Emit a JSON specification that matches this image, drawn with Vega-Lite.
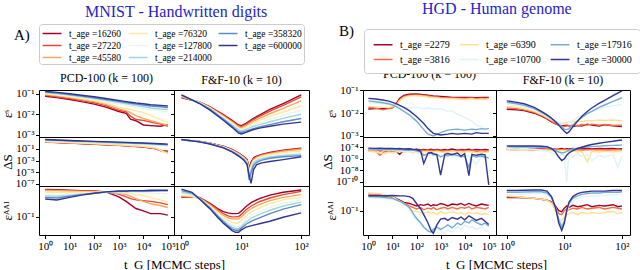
{
"$schema":"https://vega.github.io/schema/vega-lite/v6.json",
"padding":{"left":0,"top":0,"right":1,"bottom":1},
"config":{
 "font":"Liberation Serif",
 "view":{"stroke":"#000","strokeWidth":1},
 "axis":{"labelFont":"Liberation Serif","labelFontSize":11,"labelColor":"#000","titleFont":"Liberation Serif","titleFontWeight":"normal","titleColor":"#000","titleFontSize":13,"grid":false,"domain":false,"tickColor":"#000","tickSize":3.5,"labelPadding":1.5,"labelFlush":false,"labelOverlap":false,"titlePadding":1},
 "title":{"font":"Liberation Serif","fontWeight":"normal","fontSize":12,"color":"#000","offset":3},
 "legend":{"symbolType":"M-0.9,0L2,0","symbolStrokeWidth":1.5,"symbolSize":169,"labelFont":"Liberation Serif","labelFontSize":10,"labelColor":"#000","strokeColor":"#cccccc","cornerRadius":3,"fillColor":"#ffffff","labelOffset":13}
},
"datasets":{
"A11":[
{"t":16260,"x":1,"y":0.075},{"t":16260,"x":3,"y":0.064},{"t":16260,"x":10,"y":0.052},{"t":16260,"x":30,"y":0.041},{"t":16260,"x":100,"y":0.031},{"t":16260,"x":300,"y":0.022},{"t":16260,"x":1000,"y":0.0135},{"t":16260,"x":2000,"y":0.011},{"t":16260,"x":3000,"y":0.0058},{"t":16260,"x":5000,"y":0.0048},{"t":16260,"x":10000,"y":0.003},{"t":16260,"x":20000,"y":0.0028},{"t":16260,"x":50000,"y":0.0026},{"t":16260,"x":100000,"y":0.0032},
{"t":27220,"x":1,"y":0.083},{"t":27220,"x":3,"y":0.071},{"t":27220,"x":10,"y":0.058},{"t":27220,"x":30,"y":0.046},{"t":27220,"x":100,"y":0.036},{"t":27220,"x":300,"y":0.026},{"t":27220,"x":1000,"y":0.0155},{"t":27220,"x":2000,"y":0.013},{"t":27220,"x":3000,"y":0.008},{"t":27220,"x":5000,"y":0.0055},{"t":27220,"x":10000,"y":0.005},{"t":27220,"x":20000,"y":0.0042},{"t":27220,"x":50000,"y":0.0033},{"t":27220,"x":100000,"y":0.0026},
{"t":45580,"x":1,"y":0.09},{"t":45580,"x":3,"y":0.078},{"t":45580,"x":10,"y":0.064},{"t":45580,"x":30,"y":0.052},{"t":45580,"x":100,"y":0.041},{"t":45580,"x":300,"y":0.03},{"t":45580,"x":1000,"y":0.018},{"t":45580,"x":2000,"y":0.015},{"t":45580,"x":3000,"y":0.012},{"t":45580,"x":5000,"y":0.0085},{"t":45580,"x":10000,"y":0.0062},{"t":45580,"x":20000,"y":0.0048},{"t":45580,"x":50000,"y":0.0036},{"t":45580,"x":100000,"y":0.0029},
{"t":76320,"x":1,"y":0.097},{"t":76320,"x":3,"y":0.085},{"t":76320,"x":10,"y":0.071},{"t":76320,"x":30,"y":0.058},{"t":76320,"x":100,"y":0.046},{"t":76320,"x":300,"y":0.035},{"t":76320,"x":1000,"y":0.022},{"t":76320,"x":2000,"y":0.019},{"t":76320,"x":3000,"y":0.017},{"t":76320,"x":5000,"y":0.015},{"t":76320,"x":10000,"y":0.012},{"t":76320,"x":20000,"y":0.0085},{"t":76320,"x":50000,"y":0.0055},{"t":76320,"x":100000,"y":0.004},
{"t":127800,"x":1,"y":0.105},{"t":127800,"x":3,"y":0.093},{"t":127800,"x":10,"y":0.078},{"t":127800,"x":30,"y":0.064},{"t":127800,"x":100,"y":0.052},{"t":127800,"x":300,"y":0.041},{"t":127800,"x":1000,"y":0.031},{"t":127800,"x":2000,"y":0.027},{"t":127800,"x":3000,"y":0.024},{"t":127800,"x":5000,"y":0.021},{"t":127800,"x":10000,"y":0.018},{"t":127800,"x":20000,"y":0.016},{"t":127800,"x":50000,"y":0.0145},{"t":127800,"x":100000,"y":0.013},
{"t":214000,"x":1,"y":0.112},{"t":214000,"x":3,"y":0.1},{"t":214000,"x":10,"y":0.085},{"t":214000,"x":30,"y":0.07},{"t":214000,"x":100,"y":0.058},{"t":214000,"x":300,"y":0.047},{"t":214000,"x":1000,"y":0.037},{"t":214000,"x":2000,"y":0.032},{"t":214000,"x":3000,"y":0.029},{"t":214000,"x":5000,"y":0.026},{"t":214000,"x":10000,"y":0.023},{"t":214000,"x":20000,"y":0.02},{"t":214000,"x":50000,"y":0.018},{"t":214000,"x":100000,"y":0.017},
{"t":358320,"x":1,"y":0.12},{"t":358320,"x":3,"y":0.107},{"t":358320,"x":10,"y":0.091},{"t":358320,"x":30,"y":0.076},{"t":358320,"x":100,"y":0.063},{"t":358320,"x":300,"y":0.052},{"t":358320,"x":1000,"y":0.042},{"t":358320,"x":2000,"y":0.037},{"t":358320,"x":3000,"y":0.034},{"t":358320,"x":5000,"y":0.031},{"t":358320,"x":10000,"y":0.028},{"t":358320,"x":20000,"y":0.025},{"t":358320,"x":50000,"y":0.023},{"t":358320,"x":100000,"y":0.021},
{"t":600000,"x":1,"y":0.13},{"t":600000,"x":3,"y":0.115},{"t":600000,"x":10,"y":0.098},{"t":600000,"x":30,"y":0.083},{"t":600000,"x":100,"y":0.07},{"t":600000,"x":300,"y":0.058},{"t":600000,"x":1000,"y":0.046},{"t":600000,"x":2000,"y":0.041},{"t":600000,"x":3000,"y":0.038},{"t":600000,"x":5000,"y":0.035},{"t":600000,"x":10000,"y":0.032},{"t":600000,"x":20000,"y":0.029},{"t":600000,"x":50000,"y":0.027},{"t":600000,"x":100000,"y":0.025}
],
"A12":[
{"t":16260,"x":1,"y":0.062},{"t":16260,"x":2,"y":0.04},{"t":16260,"x":3,"y":0.023},{"t":16260,"x":5,"y":0.0095},{"t":16260,"x":7,"y":0.005},{"t":16260,"x":9,"y":0.003},{"t":16260,"x":10,"y":0.0028},{"t":16260,"x":12,"y":0.0036},{"t":16260,"x":15,"y":0.0057},{"t":16260,"x":20,"y":0.009},{"t":16260,"x":30,"y":0.017},{"t":16260,"x":50,"y":0.033},{"t":16260,"x":100,"y":0.086},
{"t":27220,"x":1,"y":0.066},{"t":27220,"x":2,"y":0.039},{"t":27220,"x":3,"y":0.022},{"t":27220,"x":5,"y":0.009},{"t":27220,"x":7,"y":0.0047},{"t":27220,"x":9,"y":0.0027},{"t":27220,"x":10,"y":0.0025},{"t":27220,"x":12,"y":0.0032},{"t":27220,"x":15,"y":0.005},{"t":27220,"x":20,"y":0.0078},{"t":27220,"x":30,"y":0.014},{"t":27220,"x":50,"y":0.027},{"t":27220,"x":100,"y":0.069},
{"t":45580,"x":1,"y":0.07},{"t":45580,"x":2,"y":0.038},{"t":45580,"x":3,"y":0.021},{"t":45580,"x":5,"y":0.0082},{"t":45580,"x":7,"y":0.0042},{"t":45580,"x":9,"y":0.0024},{"t":45580,"x":10,"y":0.0022},{"t":45580,"x":12,"y":0.0028},{"t":45580,"x":15,"y":0.0042},{"t":45580,"x":20,"y":0.0062},{"t":45580,"x":30,"y":0.0105},{"t":45580,"x":50,"y":0.019},{"t":45580,"x":100,"y":0.044},
{"t":76320,"x":1,"y":0.075},{"t":76320,"x":2,"y":0.037},{"t":76320,"x":3,"y":0.02},{"t":76320,"x":5,"y":0.0075},{"t":76320,"x":7,"y":0.0038},{"t":76320,"x":9,"y":0.0021},{"t":76320,"x":10,"y":0.0019},{"t":76320,"x":12,"y":0.0024},{"t":76320,"x":15,"y":0.0035},{"t":76320,"x":20,"y":0.005},{"t":76320,"x":30,"y":0.0078},{"t":76320,"x":50,"y":0.0128},{"t":76320,"x":100,"y":0.025},
{"t":127800,"x":1,"y":0.08},{"t":127800,"x":2,"y":0.036},{"t":127800,"x":3,"y":0.019},{"t":127800,"x":5,"y":0.0068},{"t":127800,"x":7,"y":0.0034},{"t":127800,"x":9,"y":0.0019},{"t":127800,"x":10,"y":0.0017},{"t":127800,"x":12,"y":0.0021},{"t":127800,"x":15,"y":0.0029},{"t":127800,"x":20,"y":0.0039},{"t":127800,"x":30,"y":0.0058},{"t":127800,"x":50,"y":0.0089},{"t":127800,"x":100,"y":0.0155},
{"t":214000,"x":1,"y":0.082},{"t":214000,"x":2,"y":0.035},{"t":214000,"x":3,"y":0.018},{"t":214000,"x":5,"y":0.0062},{"t":214000,"x":7,"y":0.003},{"t":214000,"x":9,"y":0.0017},{"t":214000,"x":10,"y":0.0015},{"t":214000,"x":12,"y":0.0018},{"t":214000,"x":15,"y":0.0024},{"t":214000,"x":20,"y":0.0031},{"t":214000,"x":30,"y":0.0043},{"t":214000,"x":50,"y":0.0063},{"t":214000,"x":100,"y":0.01},
{"t":358320,"x":1,"y":0.084},{"t":358320,"x":2,"y":0.034},{"t":358320,"x":3,"y":0.017},{"t":358320,"x":5,"y":0.0057},{"t":358320,"x":7,"y":0.0026},{"t":358320,"x":9,"y":0.0014},{"t":358320,"x":10,"y":0.0013},{"t":358320,"x":12,"y":0.0015},{"t":358320,"x":15,"y":0.0019},{"t":358320,"x":20,"y":0.0024},{"t":358320,"x":30,"y":0.0031},{"t":358320,"x":50,"y":0.0043},{"t":358320,"x":100,"y":0.0062},
{"t":600000,"x":1,"y":0.086},{"t":600000,"x":2,"y":0.033},{"t":600000,"x":3,"y":0.0157},{"t":600000,"x":5,"y":0.0051},{"t":600000,"x":7,"y":0.0023},{"t":600000,"x":9,"y":0.0012},{"t":600000,"x":10,"y":0.0011},{"t":600000,"x":12,"y":0.0013},{"t":600000,"x":15,"y":0.0017},{"t":600000,"x":20,"y":0.0021},{"t":600000,"x":30,"y":0.0026},{"t":600000,"x":50,"y":0.0033},{"t":600000,"x":100,"y":0.0041}
],
"A21":[
{"t":16260,"x":1,"y":1.5},{"t":16260,"x":10,"y":1.0},{"t":16260,"x":100,"y":0.65},{"t":16260,"x":1000,"y":0.4},{"t":16260,"x":10000,"y":0.2},{"t":16260,"x":30000,"y":0.12},{"t":16260,"x":50000,"y":0.05},{"t":16260,"x":100000,"y":0.04},
{"t":27220,"x":1,"y":1.6},{"t":27220,"x":10,"y":1.05},{"t":27220,"x":100,"y":0.68},{"t":27220,"x":1000,"y":0.42},{"t":27220,"x":10000,"y":0.22},{"t":27220,"x":30000,"y":0.12},{"t":27220,"x":50000,"y":0.06},{"t":27220,"x":100000,"y":0.03},
{"t":45580,"x":1,"y":1.7},{"t":45580,"x":10,"y":1.1},{"t":45580,"x":100,"y":0.72},{"t":45580,"x":1000,"y":0.45},{"t":45580,"x":10000,"y":0.25},{"t":45580,"x":30000,"y":0.14},{"t":45580,"x":50000,"y":0.05},{"t":45580,"x":100000,"y":0.02},
{"t":76320,"x":1,"y":1.9},{"t":76320,"x":10,"y":1.2},{"t":76320,"x":100,"y":0.8},{"t":76320,"x":1000,"y":0.5},{"t":76320,"x":10000,"y":0.28},{"t":76320,"x":30000,"y":0.16},{"t":76320,"x":50000,"y":0.06},{"t":76320,"x":100000,"y":0.014},
{"t":127800,"x":1,"y":2.8},{"t":127800,"x":10,"y":1.9},{"t":127800,"x":100,"y":1.25},{"t":127800,"x":1000,"y":0.85},{"t":127800,"x":10000,"y":0.55},{"t":127800,"x":30000,"y":0.42},{"t":127800,"x":50000,"y":0.36},{"t":127800,"x":100000,"y":0.3},
{"t":214000,"x":1,"y":3.2},{"t":214000,"x":10,"y":2.2},{"t":214000,"x":100,"y":1.5},{"t":214000,"x":1000,"y":1.05},{"t":214000,"x":10000,"y":0.72},{"t":214000,"x":30000,"y":0.58},{"t":214000,"x":50000,"y":0.52},{"t":214000,"x":100000,"y":0.45},
{"t":358320,"x":1,"y":3.6},{"t":358320,"x":10,"y":2.5},{"t":358320,"x":100,"y":1.75},{"t":358320,"x":1000,"y":1.25},{"t":358320,"x":10000,"y":0.9},{"t":358320,"x":30000,"y":0.72},{"t":358320,"x":50000,"y":0.65},{"t":358320,"x":100000,"y":0.55},
{"t":600000,"x":1,"y":4.0},{"t":600000,"x":10,"y":2.8},{"t":600000,"x":100,"y":2.0},{"t":600000,"x":1000,"y":1.45},{"t":600000,"x":10000,"y":1.05},{"t":600000,"x":30000,"y":0.85},{"t":600000,"x":50000,"y":0.78},{"t":600000,"x":100000,"y":0.65}
],
"A22":[
{"t":16260,"x":1,"y":3.6},{"t":16260,"x":2,"y":1.9},{"t":16260,"x":3,"y":1.0},{"t":16260,"x":5,"y":0.3},{"t":16260,"x":7,"y":0.08},{"t":16260,"x":9,"y":0.02},{"t":16260,"x":11,"y":0.005},{"t":16260,"x":12.5,"y":0.0015},{"t":16260,"x":13.5,"y":0.00005},{"t":16260,"x":14.5,"y":0.0005},{"t":16260,"x":16,"y":0.003},{"t":16260,"x":18,"y":0.006},{"t":16260,"x":22,"y":0.012},{"t":16260,"x":30,"y":0.025},{"t":16260,"x":50,"y":0.06},{"t":16260,"x":100,"y":0.13},
{"t":27220,"x":1,"y":3.7},{"t":27220,"x":2,"y":1.85},{"t":27220,"x":3,"y":0.95},{"t":27220,"x":5,"y":0.28},{"t":27220,"x":7,"y":0.07},{"t":27220,"x":9,"y":0.017},{"t":27220,"x":11,"y":0.004},{"t":27220,"x":12.5,"y":0.001},{"t":27220,"x":13.5,"y":0.00003},{"t":27220,"x":14.5,"y":0.0003},{"t":27220,"x":16,"y":0.002},{"t":27220,"x":18,"y":0.0045},{"t":27220,"x":22,"y":0.01},{"t":27220,"x":30,"y":0.021},{"t":27220,"x":50,"y":0.05},{"t":27220,"x":100,"y":0.11},
{"t":45580,"x":1,"y":3.8},{"t":45580,"x":2,"y":1.8},{"t":45580,"x":3,"y":0.9},{"t":45580,"x":5,"y":0.25},{"t":45580,"x":7,"y":0.06},{"t":45580,"x":9,"y":0.014},{"t":45580,"x":11,"y":0.0033},{"t":45580,"x":12.5,"y":0.0008},{"t":45580,"x":13.5,"y":0.00002},{"t":45580,"x":14.5,"y":0.0002},{"t":45580,"x":16,"y":0.0015},{"t":45580,"x":18,"y":0.0035},{"t":45580,"x":22,"y":0.008},{"t":45580,"x":30,"y":0.016},{"t":45580,"x":50,"y":0.04},{"t":45580,"x":100,"y":0.09},
{"t":76320,"x":1,"y":3.85},{"t":76320,"x":2,"y":1.75},{"t":76320,"x":3,"y":0.85},{"t":76320,"x":5,"y":0.23},{"t":76320,"x":7,"y":0.052},{"t":76320,"x":9,"y":0.012},{"t":76320,"x":11,"y":0.0028},{"t":76320,"x":12.5,"y":0.0006},{"t":76320,"x":13.5,"y":0.000012},{"t":76320,"x":14.5,"y":0.00012},{"t":76320,"x":16,"y":0.001},{"t":76320,"x":18,"y":0.0025},{"t":76320,"x":22,"y":0.0055},{"t":76320,"x":30,"y":0.011},{"t":76320,"x":50,"y":0.025},{"t":76320,"x":100,"y":0.05},
{"t":127800,"x":1,"y":3.9},{"t":127800,"x":2,"y":1.7},{"t":127800,"x":3,"y":0.8},{"t":127800,"x":5,"y":0.21},{"t":127800,"x":7,"y":0.045},{"t":127800,"x":9,"y":0.01},{"t":127800,"x":11,"y":0.0023},{"t":127800,"x":12.5,"y":0.00045},{"t":127800,"x":13.5,"y":0.000006},{"t":127800,"x":14.5,"y":0.00006},{"t":127800,"x":16,"y":0.0007},{"t":127800,"x":18,"y":0.0016},{"t":127800,"x":22,"y":0.0035},{"t":127800,"x":30,"y":0.007},{"t":127800,"x":50,"y":0.014},{"t":127800,"x":100,"y":0.025},
{"t":214000,"x":1,"y":3.95},{"t":214000,"x":2,"y":1.65},{"t":214000,"x":3,"y":0.76},{"t":214000,"x":5,"y":0.19},{"t":214000,"x":7,"y":0.04},{"t":214000,"x":9,"y":0.0085},{"t":214000,"x":11,"y":0.0018},{"t":214000,"x":12.5,"y":0.00035},{"t":214000,"x":13.5,"y":0.0000015},{"t":214000,"x":14.5,"y":0.000025},{"t":214000,"x":16,"y":0.0004},{"t":214000,"x":18,"y":0.001},{"t":214000,"x":22,"y":0.0022},{"t":214000,"x":30,"y":0.0042},{"t":214000,"x":50,"y":0.0075},{"t":214000,"x":100,"y":0.012},
{"t":358320,"x":1,"y":4.0},{"t":358320,"x":2,"y":1.62},{"t":358320,"x":3,"y":0.73},{"t":358320,"x":5,"y":0.17},{"t":358320,"x":7,"y":0.035},{"t":358320,"x":9,"y":0.007},{"t":358320,"x":11,"y":0.0015},{"t":358320,"x":12.5,"y":0.00028},{"t":358320,"x":13.5,"y":0.0000005},{"t":358320,"x":14.5,"y":0.000008},{"t":358320,"x":16,"y":0.00015},{"t":358320,"x":18,"y":0.0005},{"t":358320,"x":22,"y":0.0012},{"t":358320,"x":30,"y":0.0025},{"t":358320,"x":50,"y":0.0045},{"t":358320,"x":100,"y":0.007},
{"t":600000,"x":1,"y":4.0},{"t":600000,"x":2,"y":1.6},{"t":600000,"x":3,"y":0.7},{"t":600000,"x":5,"y":0.15},{"t":600000,"x":7,"y":0.03},{"t":600000,"x":9,"y":0.006},{"t":600000,"x":11,"y":0.0012},{"t":600000,"x":12.5,"y":0.0002},{"t":600000,"x":13.5,"y":0.000003},{"t":600000,"x":14.5,"y":0.00000013},{"t":600000,"x":16,"y":0.00003},{"t":600000,"x":18,"y":0.0002},{"t":600000,"x":22,"y":0.0004},{"t":600000,"x":30,"y":0.0007},{"t":600000,"x":50,"y":0.0015},{"t":600000,"x":100,"y":0.0045}
],
"A31":[
{"t":16260,"x":1,"y":0.47},{"t":16260,"x":3,"y":0.46},{"t":16260,"x":10,"y":0.45},{"t":16260,"x":30,"y":0.44},{"t":16260,"x":100,"y":0.43},{"t":16260,"x":300,"y":0.41},{"t":16260,"x":1000,"y":0.31},{"t":16260,"x":2000,"y":0.24},{"t":16260,"x":3000,"y":0.2},{"t":16260,"x":5000,"y":0.16},{"t":16260,"x":10000,"y":0.14},{"t":16260,"x":20000,"y":0.12},{"t":16260,"x":50000,"y":0.12},{"t":16260,"x":100000,"y":0.11},
{"t":27220,"x":1,"y":0.46},{"t":27220,"x":3,"y":0.45},{"t":27220,"x":10,"y":0.44},{"t":27220,"x":30,"y":0.43},{"t":27220,"x":100,"y":0.42},{"t":27220,"x":300,"y":0.41},{"t":27220,"x":1000,"y":0.36},{"t":27220,"x":2000,"y":0.31},{"t":27220,"x":3000,"y":0.28},{"t":27220,"x":5000,"y":0.26},{"t":27220,"x":10000,"y":0.25},{"t":27220,"x":20000,"y":0.24},{"t":27220,"x":50000,"y":0.22},{"t":27220,"x":100000,"y":0.2},
{"t":45580,"x":1,"y":0.44},{"t":45580,"x":3,"y":0.44},{"t":45580,"x":10,"y":0.43},{"t":45580,"x":30,"y":0.42},{"t":45580,"x":100,"y":0.42},{"t":45580,"x":300,"y":0.41},{"t":45580,"x":1000,"y":0.38},{"t":45580,"x":2000,"y":0.35},{"t":45580,"x":3000,"y":0.32},{"t":45580,"x":5000,"y":0.28},{"t":45580,"x":10000,"y":0.24},{"t":45580,"x":20000,"y":0.21},{"t":45580,"x":50000,"y":0.19},{"t":45580,"x":100000,"y":0.17},
{"t":76320,"x":1,"y":0.4},{"t":76320,"x":3,"y":0.4},{"t":76320,"x":10,"y":0.4},{"t":76320,"x":30,"y":0.4},{"t":76320,"x":100,"y":0.4},{"t":76320,"x":300,"y":0.4},{"t":76320,"x":1000,"y":0.39},{"t":76320,"x":2000,"y":0.38},{"t":76320,"x":3000,"y":0.37},{"t":76320,"x":5000,"y":0.35},{"t":76320,"x":10000,"y":0.33},{"t":76320,"x":20000,"y":0.3},{"t":76320,"x":50000,"y":0.26},{"t":76320,"x":100000,"y":0.23},
{"t":127800,"x":1,"y":0.37},{"t":127800,"x":3,"y":0.36},{"t":127800,"x":10,"y":0.37},{"t":127800,"x":30,"y":0.38},{"t":127800,"x":100,"y":0.39},{"t":127800,"x":300,"y":0.4},{"t":127800,"x":1000,"y":0.4},{"t":127800,"x":2000,"y":0.4},{"t":127800,"x":3000,"y":0.4},{"t":127800,"x":5000,"y":0.4},{"t":127800,"x":10000,"y":0.39},{"t":127800,"x":20000,"y":0.38},{"t":127800,"x":50000,"y":0.37},{"t":127800,"x":100000,"y":0.37},
{"t":214000,"x":1,"y":0.33},{"t":214000,"x":3,"y":0.32},{"t":214000,"x":10,"y":0.34},{"t":214000,"x":30,"y":0.36},{"t":214000,"x":100,"y":0.38},{"t":214000,"x":300,"y":0.4},{"t":214000,"x":1000,"y":0.41},{"t":214000,"x":2000,"y":0.41},{"t":214000,"x":3000,"y":0.42},{"t":214000,"x":5000,"y":0.42},{"t":214000,"x":10000,"y":0.42},{"t":214000,"x":20000,"y":0.42},{"t":214000,"x":50000,"y":0.43},{"t":214000,"x":100000,"y":0.43},
{"t":358320,"x":1,"y":0.3},{"t":358320,"x":3,"y":0.29},{"t":358320,"x":10,"y":0.32},{"t":358320,"x":30,"y":0.35},{"t":358320,"x":100,"y":0.38},{"t":358320,"x":300,"y":0.41},{"t":358320,"x":1000,"y":0.42},{"t":358320,"x":2000,"y":0.42},{"t":358320,"x":3000,"y":0.43},{"t":358320,"x":5000,"y":0.43},{"t":358320,"x":10000,"y":0.43},{"t":358320,"x":20000,"y":0.43},{"t":358320,"x":50000,"y":0.44},{"t":358320,"x":100000,"y":0.44},
{"t":600000,"x":1,"y":0.275},{"t":600000,"x":3,"y":0.26},{"t":600000,"x":10,"y":0.3},{"t":600000,"x":30,"y":0.34},{"t":600000,"x":100,"y":0.38},{"t":600000,"x":300,"y":0.41},{"t":600000,"x":1000,"y":0.43},{"t":600000,"x":2000,"y":0.43},{"t":600000,"x":3000,"y":0.44},{"t":600000,"x":5000,"y":0.44},{"t":600000,"x":10000,"y":0.44},{"t":600000,"x":20000,"y":0.45},{"t":600000,"x":50000,"y":0.45},{"t":600000,"x":100000,"y":0.45}
],
"A32":[
{"t":16260,"x":1,"y":0.3},{"t":16260,"x":1.5,"y":0.3},{"t":16260,"x":2,"y":0.3},{"t":16260,"x":3,"y":0.215},{"t":16260,"x":4,"y":0.16},{"t":16260,"x":5,"y":0.135},{"t":16260,"x":6,"y":0.125},{"t":16260,"x":7,"y":0.12},{"t":16260,"x":8,"y":0.12},{"t":16260,"x":9,"y":0.122},{"t":16260,"x":10,"y":0.14},{"t":16260,"x":12,"y":0.18},{"t":16260,"x":15,"y":0.23},{"t":16260,"x":20,"y":0.28},{"t":16260,"x":30,"y":0.34},{"t":16260,"x":50,"y":0.4},{"t":16260,"x":100,"y":0.455},
{"t":27220,"x":1,"y":0.31},{"t":27220,"x":1.5,"y":0.305},{"t":27220,"x":2,"y":0.295},{"t":27220,"x":3,"y":0.205},{"t":27220,"x":4,"y":0.15},{"t":27220,"x":5,"y":0.12},{"t":27220,"x":6,"y":0.106},{"t":27220,"x":7,"y":0.1},{"t":27220,"x":8,"y":0.1},{"t":27220,"x":9,"y":0.102},{"t":27220,"x":10,"y":0.115},{"t":27220,"x":12,"y":0.15},{"t":27220,"x":15,"y":0.19},{"t":27220,"x":20,"y":0.235},{"t":27220,"x":30,"y":0.29},{"t":27220,"x":50,"y":0.35},{"t":27220,"x":100,"y":0.42},
{"t":45580,"x":1,"y":0.32},{"t":45580,"x":1.5,"y":0.31},{"t":45580,"x":2,"y":0.29},{"t":45580,"x":3,"y":0.195},{"t":45580,"x":4,"y":0.14},{"t":45580,"x":5,"y":0.11},{"t":45580,"x":6,"y":0.095},{"t":45580,"x":7,"y":0.09},{"t":45580,"x":8,"y":0.089},{"t":45580,"x":9,"y":0.09},{"t":45580,"x":10,"y":0.1},{"t":45580,"x":12,"y":0.13},{"t":45580,"x":15,"y":0.165},{"t":45580,"x":20,"y":0.2},{"t":45580,"x":30,"y":0.25},{"t":45580,"x":50,"y":0.3},{"t":45580,"x":100,"y":0.35},
{"t":76320,"x":1,"y":0.34},{"t":76320,"x":1.5,"y":0.32},{"t":76320,"x":2,"y":0.285},{"t":76320,"x":3,"y":0.185},{"t":76320,"x":4,"y":0.128},{"t":76320,"x":5,"y":0.098},{"t":76320,"x":6,"y":0.082},{"t":76320,"x":7,"y":0.073},{"t":76320,"x":8,"y":0.07},{"t":76320,"x":9,"y":0.071},{"t":76320,"x":10,"y":0.082},{"t":76320,"x":12,"y":0.105},{"t":76320,"x":15,"y":0.135},{"t":76320,"x":20,"y":0.165},{"t":76320,"x":30,"y":0.21},{"t":76320,"x":50,"y":0.26},{"t":76320,"x":100,"y":0.3},
{"t":127800,"x":1,"y":0.37},{"t":127800,"x":1.5,"y":0.34},{"t":127800,"x":2,"y":0.28},{"t":127800,"x":3,"y":0.175},{"t":127800,"x":4,"y":0.118},{"t":127800,"x":5,"y":0.088},{"t":127800,"x":6,"y":0.072},{"t":127800,"x":7,"y":0.063},{"t":127800,"x":8,"y":0.058},{"t":127800,"x":9,"y":0.059},{"t":127800,"x":10,"y":0.068},{"t":127800,"x":12,"y":0.088},{"t":127800,"x":15,"y":0.11},{"t":127800,"x":20,"y":0.135},{"t":127800,"x":30,"y":0.17},{"t":127800,"x":50,"y":0.215},{"t":127800,"x":100,"y":0.26},
{"t":214000,"x":1,"y":0.4},{"t":214000,"x":1.5,"y":0.36},{"t":214000,"x":2,"y":0.28},{"t":214000,"x":3,"y":0.17},{"t":214000,"x":4,"y":0.11},{"t":214000,"x":5,"y":0.081},{"t":214000,"x":6,"y":0.065},{"t":214000,"x":7,"y":0.056},{"t":214000,"x":8,"y":0.052},{"t":214000,"x":9,"y":0.052},{"t":214000,"x":10,"y":0.059},{"t":214000,"x":12,"y":0.075},{"t":214000,"x":15,"y":0.095},{"t":214000,"x":20,"y":0.115},{"t":214000,"x":30,"y":0.145},{"t":214000,"x":50,"y":0.185},{"t":214000,"x":100,"y":0.23},
{"t":358320,"x":1,"y":0.44},{"t":358320,"x":1.5,"y":0.38},{"t":358320,"x":2,"y":0.28},{"t":358320,"x":3,"y":0.165},{"t":358320,"x":4,"y":0.105},{"t":358320,"x":5,"y":0.076},{"t":358320,"x":6,"y":0.06},{"t":358320,"x":7,"y":0.051},{"t":358320,"x":8,"y":0.047},{"t":358320,"x":9,"y":0.047},{"t":358320,"x":10,"y":0.053},{"t":358320,"x":12,"y":0.066},{"t":358320,"x":15,"y":0.08},{"t":358320,"x":20,"y":0.095},{"t":358320,"x":30,"y":0.12},{"t":358320,"x":50,"y":0.155},{"t":358320,"x":100,"y":0.2},
{"t":600000,"x":1,"y":0.48},{"t":600000,"x":1.5,"y":0.4},{"t":600000,"x":2,"y":0.275},{"t":600000,"x":3,"y":0.157},{"t":600000,"x":4,"y":0.098},{"t":600000,"x":5,"y":0.07},{"t":600000,"x":6,"y":0.056},{"t":600000,"x":7,"y":0.046},{"t":600000,"x":8,"y":0.042},{"t":600000,"x":9,"y":0.042},{"t":600000,"x":10,"y":0.048},{"t":600000,"x":12,"y":0.056},{"t":600000,"x":15,"y":0.061},{"t":600000,"x":20,"y":0.068},{"t":600000,"x":30,"y":0.078},{"t":600000,"x":50,"y":0.098},{"t":600000,"x":100,"y":0.125}
],
"B11":[
{"t":2279,"x":1,"y":0.0154},{"t":2279,"x":2,"y":0.016},{"t":2279,"x":4,"y":0.016},{"t":2279,"x":7,"y":0.017},{"t":2279,"x":10,"y":0.018},{"t":2279,"x":15,"y":0.028},{"t":2279,"x":20,"y":0.045},{"t":2279,"x":30,"y":0.06},{"t":2279,"x":50,"y":0.068},{"t":2279,"x":100,"y":0.07},{"t":2279,"x":200,"y":0.066},{"t":2279,"x":300,"y":0.062},{"t":2279,"x":500,"y":0.058},{"t":2279,"x":1000,"y":0.055},{"t":2279,"x":2000,"y":0.052},{"t":2279,"x":3000,"y":0.05},{"t":2279,"x":5000,"y":0.05},{"t":2279,"x":10000,"y":0.049},{"t":2279,"x":20000,"y":0.05},{"t":2279,"x":30000,"y":0.048},{"t":2279,"x":50000,"y":0.049},{"t":2279,"x":70000,"y":0.05},{"t":2279,"x":100000,"y":0.049},
{"t":3816,"x":1,"y":0.018},{"t":3816,"x":2,"y":0.017},{"t":3816,"x":4,"y":0.014},{"t":3816,"x":7,"y":0.016},{"t":3816,"x":10,"y":0.017},{"t":3816,"x":15,"y":0.025},{"t":3816,"x":20,"y":0.04},{"t":3816,"x":30,"y":0.055},{"t":3816,"x":50,"y":0.062},{"t":3816,"x":100,"y":0.064},{"t":3816,"x":200,"y":0.06},{"t":3816,"x":300,"y":0.057},{"t":3816,"x":500,"y":0.053},{"t":3816,"x":1000,"y":0.05},{"t":3816,"x":2000,"y":0.048},{"t":3816,"x":3000,"y":0.047},{"t":3816,"x":5000,"y":0.046},{"t":3816,"x":10000,"y":0.045},{"t":3816,"x":20000,"y":0.047},{"t":3816,"x":30000,"y":0.044},{"t":3816,"x":50000,"y":0.046},{"t":3816,"x":70000,"y":0.045},{"t":3816,"x":100000,"y":0.046},
{"t":6390,"x":1,"y":0.02},{"t":6390,"x":2,"y":0.019},{"t":6390,"x":4,"y":0.018},{"t":6390,"x":7,"y":0.018},{"t":6390,"x":10,"y":0.019},{"t":6390,"x":15,"y":0.023},{"t":6390,"x":20,"y":0.035},{"t":6390,"x":30,"y":0.05},{"t":6390,"x":50,"y":0.058},{"t":6390,"x":100,"y":0.06},{"t":6390,"x":200,"y":0.056},{"t":6390,"x":300,"y":0.052},{"t":6390,"x":500,"y":0.049},{"t":6390,"x":1000,"y":0.046},{"t":6390,"x":2000,"y":0.044},{"t":6390,"x":3000,"y":0.043},{"t":6390,"x":5000,"y":0.042},{"t":6390,"x":10000,"y":0.041},{"t":6390,"x":20000,"y":0.043},{"t":6390,"x":30000,"y":0.04},{"t":6390,"x":50000,"y":0.042},{"t":6390,"x":70000,"y":0.041},{"t":6390,"x":100000,"y":0.042},
{"t":10700,"x":1,"y":0.028},{"t":10700,"x":2,"y":0.027},{"t":10700,"x":4,"y":0.026},{"t":10700,"x":7,"y":0.025},{"t":10700,"x":10,"y":0.024},{"t":10700,"x":15,"y":0.022},{"t":10700,"x":20,"y":0.02},{"t":10700,"x":30,"y":0.018},{"t":10700,"x":50,"y":0.017},{"t":10700,"x":100,"y":0.018},{"t":10700,"x":200,"y":0.016},{"t":10700,"x":300,"y":0.017},{"t":10700,"x":500,"y":0.015},{"t":10700,"x":1000,"y":0.016},{"t":10700,"x":2000,"y":0.012},{"t":10700,"x":3000,"y":0.013},{"t":10700,"x":5000,"y":0.009},{"t":10700,"x":10000,"y":0.0065},{"t":10700,"x":20000,"y":0.0045},{"t":10700,"x":30000,"y":0.003},{"t":10700,"x":50000,"y":0.0025},{"t":10700,"x":70000,"y":0.002},{"t":10700,"x":100000,"y":0.0022},
{"t":17916,"x":1,"y":0.035},{"t":17916,"x":2,"y":0.032},{"t":17916,"x":4,"y":0.029},{"t":17916,"x":7,"y":0.026},{"t":17916,"x":10,"y":0.023},{"t":17916,"x":15,"y":0.019},{"t":17916,"x":20,"y":0.016},{"t":17916,"x":30,"y":0.012},{"t":17916,"x":50,"y":0.0085},{"t":17916,"x":100,"y":0.0045},{"t":17916,"x":200,"y":0.0019},{"t":17916,"x":300,"y":0.0012},{"t":17916,"x":500,"y":0.001},{"t":17916,"x":1000,"y":0.0014},{"t":17916,"x":2000,"y":0.0018},{"t":17916,"x":3000,"y":0.0019},{"t":17916,"x":5000,"y":0.002},{"t":17916,"x":10000,"y":0.0018},{"t":17916,"x":20000,"y":0.002},{"t":17916,"x":30000,"y":0.0019},{"t":17916,"x":50000,"y":0.0021},{"t":17916,"x":70000,"y":0.002},{"t":17916,"x":100000,"y":0.0021},
{"t":30000,"x":1,"y":0.045},{"t":30000,"x":2,"y":0.042},{"t":30000,"x":4,"y":0.038},{"t":30000,"x":7,"y":0.034},{"t":30000,"x":10,"y":0.03},{"t":30000,"x":15,"y":0.026},{"t":30000,"x":20,"y":0.022},{"t":30000,"x":30,"y":0.018},{"t":30000,"x":50,"y":0.013},{"t":30000,"x":100,"y":0.0072},{"t":30000,"x":200,"y":0.0035},{"t":30000,"x":300,"y":0.0021},{"t":30000,"x":500,"y":0.0013},{"t":30000,"x":1000,"y":0.0011},{"t":30000,"x":2000,"y":0.0012},{"t":30000,"x":3000,"y":0.0013},{"t":30000,"x":5000,"y":0.0012},{"t":30000,"x":10000,"y":0.0013},{"t":30000,"x":20000,"y":0.0012},{"t":30000,"x":30000,"y":0.0014},{"t":30000,"x":50000,"y":0.0013},{"t":30000,"x":70000,"y":0.0013},{"t":30000,"x":100000,"y":0.0013}
],
"B12":[
{"t":2279,"x":1,"y":0.015},{"t":2279,"x":1.5,"y":0.014},{"t":2279,"x":2,"y":0.013},{"t":2279,"x":3,"y":0.01},{"t":2279,"x":4,"y":0.0075},{"t":2279,"x":5,"y":0.0056},{"t":2279,"x":6,"y":0.0042},{"t":2279,"x":7,"y":0.0034},{"t":2279,"x":8,"y":0.003},{"t":2279,"x":9,"y":0.0028},{"t":2279,"x":10,"y":0.0029},{"t":2279,"x":11,"y":0.003},{"t":2279,"x":12,"y":0.0028},{"t":2279,"x":14,"y":0.0026},{"t":2279,"x":17,"y":0.0029},{"t":2279,"x":20,"y":0.0027},{"t":2279,"x":25,"y":0.0033},{"t":2279,"x":30,"y":0.003},{"t":2279,"x":40,"y":0.0027},{"t":2279,"x":50,"y":0.0031},{"t":2279,"x":70,"y":0.0028},{"t":2279,"x":100,"y":0.0026},
{"t":3816,"x":1,"y":0.017},{"t":3816,"x":1.5,"y":0.016},{"t":3816,"x":2,"y":0.014},{"t":3816,"x":3,"y":0.011},{"t":3816,"x":4,"y":0.008},{"t":3816,"x":5,"y":0.006},{"t":3816,"x":6,"y":0.0045},{"t":3816,"x":7,"y":0.0035},{"t":3816,"x":8,"y":0.003},{"t":3816,"x":9,"y":0.0027},{"t":3816,"x":10,"y":0.0026},{"t":3816,"x":11,"y":0.0027},{"t":3816,"x":12,"y":0.0028},{"t":3816,"x":14,"y":0.003},{"t":3816,"x":17,"y":0.0028},{"t":3816,"x":20,"y":0.0032},{"t":3816,"x":25,"y":0.003},{"t":3816,"x":30,"y":0.0033},{"t":3816,"x":40,"y":0.003},{"t":3816,"x":50,"y":0.0032},{"t":3816,"x":70,"y":0.0029},{"t":3816,"x":100,"y":0.003},
{"t":6390,"x":1,"y":0.02},{"t":6390,"x":1.5,"y":0.018},{"t":6390,"x":2,"y":0.016},{"t":6390,"x":3,"y":0.012},{"t":6390,"x":4,"y":0.0088},{"t":6390,"x":5,"y":0.0065},{"t":6390,"x":6,"y":0.005},{"t":6390,"x":7,"y":0.0042},{"t":6390,"x":8,"y":0.0037},{"t":6390,"x":9,"y":0.0036},{"t":6390,"x":10,"y":0.0037},{"t":6390,"x":11,"y":0.0039},{"t":6390,"x":12,"y":0.004},{"t":6390,"x":14,"y":0.0042},{"t":6390,"x":17,"y":0.0045},{"t":6390,"x":20,"y":0.0044},{"t":6390,"x":25,"y":0.0048},{"t":6390,"x":30,"y":0.0046},{"t":6390,"x":40,"y":0.005},{"t":6390,"x":50,"y":0.0048},{"t":6390,"x":70,"y":0.005},{"t":6390,"x":100,"y":0.0047},
{"t":10700,"x":1,"y":0.025},{"t":10700,"x":1.5,"y":0.022},{"t":10700,"x":2,"y":0.019},{"t":10700,"x":3,"y":0.014},{"t":10700,"x":4,"y":0.01},{"t":10700,"x":5,"y":0.0075},{"t":10700,"x":6,"y":0.0058},{"t":10700,"x":7,"y":0.0047},{"t":10700,"x":8,"y":0.004},{"t":10700,"x":9,"y":0.0036},{"t":10700,"x":10,"y":0.0034},{"t":10700,"x":11,"y":0.0035},{"t":10700,"x":12,"y":0.004},{"t":10700,"x":14,"y":0.005},{"t":10700,"x":17,"y":0.0065},{"t":10700,"x":20,"y":0.008},{"t":10700,"x":25,"y":0.01},{"t":10700,"x":30,"y":0.012},{"t":10700,"x":40,"y":0.015},{"t":10700,"x":50,"y":0.018},{"t":10700,"x":70,"y":0.021},{"t":10700,"x":100,"y":0.024},
{"t":17916,"x":1,"y":0.03},{"t":17916,"x":1.5,"y":0.026},{"t":17916,"x":2,"y":0.022},{"t":17916,"x":3,"y":0.016},{"t":17916,"x":4,"y":0.011},{"t":17916,"x":5,"y":0.008},{"t":17916,"x":6,"y":0.0058},{"t":17916,"x":7,"y":0.0043},{"t":17916,"x":8,"y":0.0033},{"t":17916,"x":9,"y":0.0025},{"t":17916,"x":10,"y":0.002},{"t":17916,"x":11,"y":0.0019},{"t":17916,"x":12,"y":0.0021},{"t":17916,"x":14,"y":0.003},{"t":17916,"x":17,"y":0.0046},{"t":17916,"x":20,"y":0.0065},{"t":17916,"x":25,"y":0.0095},{"t":17916,"x":30,"y":0.012},{"t":17916,"x":40,"y":0.018},{"t":17916,"x":50,"y":0.023},{"t":17916,"x":70,"y":0.033},{"t":17916,"x":100,"y":0.048},
{"t":30000,"x":1,"y":0.035},{"t":30000,"x":1.5,"y":0.03},{"t":30000,"x":2,"y":0.026},{"t":30000,"x":3,"y":0.018},{"t":30000,"x":4,"y":0.012},{"t":30000,"x":5,"y":0.0085},{"t":30000,"x":6,"y":0.006},{"t":30000,"x":7,"y":0.0042},{"t":30000,"x":8,"y":0.003},{"t":30000,"x":9,"y":0.0021},{"t":30000,"x":10,"y":0.0016},{"t":30000,"x":11,"y":0.0013},{"t":30000,"x":12,"y":0.0015},{"t":30000,"x":14,"y":0.0025},{"t":30000,"x":17,"y":0.0045},{"t":30000,"x":20,"y":0.0072},{"t":30000,"x":25,"y":0.012},{"t":30000,"x":30,"y":0.017},{"t":30000,"x":40,"y":0.027},{"t":30000,"x":50,"y":0.037},{"t":30000,"x":70,"y":0.06},{"t":30000,"x":100,"y":0.095}
],
"B21":[
{"t":2279,"x":1,"y":3e-5},{"t":2279,"x":2,"y":3.5e-5},{"t":2279,"x":3,"y":2.5e-5},{"t":2279,"x":5,"y":3e-5},{"t":2279,"x":7,"y":4e-5},{"t":2279,"x":10,"y":3e-5},{"t":2279,"x":15,"y":1.5e-5},{"t":2279,"x":20,"y":6e-6},{"t":2279,"x":30,"y":3e-5},{"t":2279,"x":50,"y":4e-5},{"t":2279,"x":70,"y":3e-5},{"t":2279,"x":100,"y":4.5e-5},{"t":2279,"x":150,"y":3.5e-5},{"t":2279,"x":200,"y":4e-5},{"t":2279,"x":300,"y":3e-5},{"t":2279,"x":400,"y":4.5e-5},{"t":2279,"x":500,"y":3.5e-5},{"t":2279,"x":700,"y":4e-5},{"t":2279,"x":1000,"y":3e-5},{"t":2279,"x":1500,"y":4e-5},{"t":2279,"x":2000,"y":3.5e-5},{"t":2279,"x":3000,"y":5e-5},{"t":2279,"x":5000,"y":3e-5},{"t":2279,"x":7000,"y":4e-5},{"t":2279,"x":10000,"y":3.5e-5},{"t":2279,"x":15000,"y":4.5e-5},{"t":2279,"x":20000,"y":3e-5},{"t":2279,"x":30000,"y":4e-5},{"t":2279,"x":50000,"y":3.5e-5},{"t":2279,"x":70000,"y":4e-5},{"t":2279,"x":100000,"y":3.5e-5},
{"t":3816,"x":1,"y":2.5e-5},{"t":3816,"x":2,"y":2e-5},{"t":3816,"x":3,"y":4e-6},{"t":3816,"x":5,"y":2e-5},{"t":3816,"x":7,"y":1.5e-5},{"t":3816,"x":10,"y":2.5e-5},{"t":3816,"x":15,"y":2e-5},{"t":3816,"x":20,"y":3e-5},{"t":3816,"x":30,"y":2.5e-5},{"t":3816,"x":50,"y":3e-5},{"t":3816,"x":70,"y":2e-5},{"t":3816,"x":100,"y":3e-5},{"t":3816,"x":150,"y":2.5e-5},{"t":3816,"x":200,"y":3e-5},{"t":3816,"x":300,"y":2e-5},{"t":3816,"x":400,"y":3e-5},{"t":3816,"x":500,"y":2.5e-5},{"t":3816,"x":700,"y":3e-5},{"t":3816,"x":1000,"y":2e-5},{"t":3816,"x":1500,"y":2.5e-5},{"t":3816,"x":2000,"y":3e-5},{"t":3816,"x":3000,"y":2e-5},{"t":3816,"x":5000,"y":2.5e-5},{"t":3816,"x":7000,"y":3e-5},{"t":3816,"x":10000,"y":2e-5},{"t":3816,"x":15000,"y":2.5e-5},{"t":3816,"x":20000,"y":3e-5},{"t":3816,"x":30000,"y":2e-5},{"t":3816,"x":50000,"y":2.5e-5},{"t":3816,"x":70000,"y":2e-5},{"t":3816,"x":100000,"y":2.5e-5},
{"t":6390,"x":1,"y":2e-5},{"t":6390,"x":2,"y":1.5e-5},{"t":6390,"x":3,"y":1e-5},{"t":6390,"x":5,"y":8e-6},{"t":6390,"x":7,"y":1.5e-5},{"t":6390,"x":10,"y":1e-5},{"t":6390,"x":15,"y":1.5e-5},{"t":6390,"x":20,"y":2e-5},{"t":6390,"x":30,"y":1.5e-5},{"t":6390,"x":50,"y":2e-5},{"t":6390,"x":70,"y":1e-5},{"t":6390,"x":100,"y":1.5e-5},{"t":6390,"x":150,"y":2e-5},{"t":6390,"x":200,"y":1.5e-5},{"t":6390,"x":300,"y":2e-5},{"t":6390,"x":400,"y":1e-5},{"t":6390,"x":500,"y":1.5e-5},{"t":6390,"x":700,"y":2e-5},{"t":6390,"x":1000,"y":1.5e-5},{"t":6390,"x":1500,"y":1e-5},{"t":6390,"x":2000,"y":1.5e-5},{"t":6390,"x":3000,"y":2e-5},{"t":6390,"x":5000,"y":1.5e-5},{"t":6390,"x":7000,"y":1e-5},{"t":6390,"x":10000,"y":1.5e-5},{"t":6390,"x":15000,"y":2e-5},{"t":6390,"x":20000,"y":1.5e-5},{"t":6390,"x":30000,"y":1e-5},{"t":6390,"x":50000,"y":1.5e-5},{"t":6390,"x":70000,"y":1.2e-5},{"t":6390,"x":100000,"y":1.5e-5},
{"t":10700,"x":1,"y":4e-5},{"t":10700,"x":2,"y":3.5e-5},{"t":10700,"x":3,"y":4e-5},{"t":10700,"x":5,"y":3e-5},{"t":10700,"x":7,"y":3.5e-5},{"t":10700,"x":10,"y":3e-5},{"t":10700,"x":15,"y":2.5e-5},{"t":10700,"x":20,"y":3e-5},{"t":10700,"x":30,"y":2e-5},{"t":10700,"x":50,"y":1.5e-5},{"t":10700,"x":70,"y":2e-5},{"t":10700,"x":100,"y":1e-5},{"t":10700,"x":150,"y":8e-6},{"t":10700,"x":200,"y":6e-6},{"t":10700,"x":300,"y":4e-6},{"t":10700,"x":400,"y":7e-6},{"t":10700,"x":500,"y":3e-6},{"t":10700,"x":700,"y":5e-6},{"t":10700,"x":1000,"y":4e-6},{"t":10700,"x":1500,"y":2e-6},{"t":10700,"x":2000,"y":5e-6},{"t":10700,"x":3000,"y":3e-6},{"t":10700,"x":5000,"y":2e-6},{"t":10700,"x":7000,"y":4e-6},{"t":10700,"x":10000,"y":2e-6},{"t":10700,"x":15000,"y":3e-6},{"t":10700,"x":20000,"y":1e-6},{"t":10700,"x":30000,"y":1e-7},{"t":10700,"x":50000,"y":2e-6},{"t":10700,"x":70000,"y":1e-6},{"t":10700,"x":100000,"y":1.2e-6},
{"t":17916,"x":1,"y":5e-5},{"t":17916,"x":2,"y":4.5e-5},{"t":17916,"x":3,"y":5e-5},{"t":17916,"x":5,"y":4e-5},{"t":17916,"x":7,"y":4.5e-5},{"t":17916,"x":10,"y":4e-5},{"t":17916,"x":15,"y":3.5e-5},{"t":17916,"x":20,"y":4e-5},{"t":17916,"x":30,"y":3.5e-5},{"t":17916,"x":50,"y":3e-5},{"t":17916,"x":70,"y":3.5e-5},{"t":17916,"x":100,"y":2.5e-5},{"t":17916,"x":150,"y":1.5e-5},{"t":17916,"x":200,"y":4e-6},{"t":17916,"x":300,"y":8e-6},{"t":17916,"x":400,"y":1e-5},{"t":17916,"x":500,"y":5e-6},{"t":17916,"x":700,"y":6e-6},{"t":17916,"x":1000,"y":2e-6},{"t":17916,"x":1500,"y":5e-6},{"t":17916,"x":2000,"y":3e-6},{"t":17916,"x":3000,"y":6e-6},{"t":17916,"x":5000,"y":4e-6},{"t":17916,"x":7000,"y":2e-6},{"t":17916,"x":10000,"y":3e-6},{"t":17916,"x":15000,"y":3e-8},{"t":17916,"x":20000,"y":4e-6},{"t":17916,"x":30000,"y":2e-6},{"t":17916,"x":50000,"y":3e-6},{"t":17916,"x":70000,"y":2e-6},{"t":17916,"x":100000,"y":1.5e-6},
{"t":30000,"x":1,"y":7e-5},{"t":30000,"x":2,"y":6.5e-5},{"t":30000,"x":3,"y":7e-5},{"t":30000,"x":5,"y":6e-5},{"t":30000,"x":7,"y":6.5e-5},{"t":30000,"x":10,"y":6e-5},{"t":30000,"x":15,"y":5.5e-5},{"t":30000,"x":20,"y":6e-5},{"t":30000,"x":30,"y":5e-5},{"t":30000,"x":50,"y":5.5e-5},{"t":30000,"x":70,"y":4.5e-5},{"t":30000,"x":100,"y":4e-5},{"t":30000,"x":150,"y":2e-5},{"t":30000,"x":200,"y":1.5e-7},{"t":30000,"x":300,"y":1e-5},{"t":30000,"x":400,"y":1.2e-5},{"t":30000,"x":500,"y":8e-6},{"t":30000,"x":700,"y":5e-6},{"t":30000,"x":1000,"y":1.5e-9},{"t":30000,"x":1500,"y":6e-6},{"t":30000,"x":2000,"y":8e-6},{"t":30000,"x":3000,"y":5e-6},{"t":30000,"x":5000,"y":1e-5},{"t":30000,"x":7000,"y":3e-6},{"t":30000,"x":10000,"y":8e-6},{"t":30000,"x":15000,"y":1.2e-9},{"t":30000,"x":20000,"y":6e-6},{"t":30000,"x":30000,"y":4e-6},{"t":30000,"x":50000,"y":6e-6},{"t":30000,"x":70000,"y":5e-6},{"t":30000,"x":100000,"y":3e-11}
],
"B22":[
{"t":2279,"x":1,"y":5e-5},{"t":2279,"x":1.5,"y":4.5e-5},{"t":2279,"x":2,"y":5.5e-5},{"t":2279,"x":3,"y":4.5e-5},{"t":2279,"x":4,"y":5e-5},{"t":2279,"x":5,"y":4.5e-5},{"t":2279,"x":6,"y":5.5e-5},{"t":2279,"x":7,"y":4.5e-5},{"t":2279,"x":8,"y":5e-5},{"t":2279,"x":9,"y":6e-5},{"t":2279,"x":10,"y":4.5e-5},{"t":2279,"x":11,"y":5.5e-5},{"t":2279,"x":12,"y":5e-5},{"t":2279,"x":14,"y":6e-5},{"t":2279,"x":17,"y":5e-5},{"t":2279,"x":20,"y":5.5e-5},{"t":2279,"x":25,"y":6e-5},{"t":2279,"x":30,"y":5e-5},{"t":2279,"x":40,"y":6e-5},{"t":2279,"x":50,"y":5.5e-5},{"t":2279,"x":70,"y":6e-5},{"t":2279,"x":85,"y":5e-5},{"t":2279,"x":100,"y":5.5e-5},
{"t":3816,"x":1,"y":4e-5},{"t":3816,"x":1.5,"y":3.5e-5},{"t":3816,"x":2,"y":4.5e-5},{"t":3816,"x":3,"y":3e-5},{"t":3816,"x":4,"y":4e-5},{"t":3816,"x":5,"y":3.5e-5},{"t":3816,"x":6,"y":4e-5},{"t":3816,"x":7,"y":3e-5},{"t":3816,"x":8,"y":4.5e-5},{"t":3816,"x":9,"y":3.5e-5},{"t":3816,"x":10,"y":4e-5},{"t":3816,"x":11,"y":3e-5},{"t":3816,"x":12,"y":4e-5},{"t":3816,"x":14,"y":3.5e-5},{"t":3816,"x":17,"y":4e-5},{"t":3816,"x":20,"y":3e-5},{"t":3816,"x":25,"y":4e-5},{"t":3816,"x":30,"y":3.5e-5},{"t":3816,"x":40,"y":4e-5},{"t":3816,"x":50,"y":3e-5},{"t":3816,"x":70,"y":3.5e-5},{"t":3816,"x":85,"y":4e-5},{"t":3816,"x":100,"y":3.5e-5},
{"t":6390,"x":1,"y":4e-5},{"t":6390,"x":1.5,"y":3.5e-5},{"t":6390,"x":2,"y":4e-5},{"t":6390,"x":3,"y":3.5e-5},{"t":6390,"x":4,"y":3e-5},{"t":6390,"x":5,"y":3.5e-5},{"t":6390,"x":6,"y":2.5e-5},{"t":6390,"x":7,"y":3e-5},{"t":6390,"x":8,"y":2e-5},{"t":6390,"x":9,"y":3e-5},{"t":6390,"x":10,"y":2.5e-5},{"t":6390,"x":11,"y":3e-5},{"t":6390,"x":12,"y":2e-5},{"t":6390,"x":14,"y":2.5e-5},{"t":6390,"x":17,"y":1.5e-5},{"t":6390,"x":20,"y":2e-5},{"t":6390,"x":25,"y":3e-7},{"t":6390,"x":30,"y":2e-5},{"t":6390,"x":40,"y":1.5e-5},{"t":6390,"x":50,"y":2e-5},{"t":6390,"x":70,"y":1.5e-5},{"t":6390,"x":85,"y":2e-5},{"t":6390,"x":100,"y":1.5e-5},
{"t":10700,"x":1,"y":6e-5},{"t":10700,"x":1.5,"y":5e-5},{"t":10700,"x":2,"y":6e-5},{"t":10700,"x":3,"y":4e-5},{"t":10700,"x":4,"y":3e-5},{"t":10700,"x":5,"y":2e-5},{"t":10700,"x":6,"y":1e-5},{"t":10700,"x":7,"y":5e-6},{"t":10700,"x":8,"y":2e-6},{"t":10700,"x":9,"y":8e-6},{"t":10700,"x":10,"y":3e-6},{"t":10700,"x":11,"y":1e-10},{"t":10700,"x":12,"y":5e-6},{"t":10700,"x":14,"y":2e-6},{"t":10700,"x":17,"y":8e-6},{"t":10700,"x":20,"y":3e-6},{"t":10700,"x":25,"y":6e-6},{"t":10700,"x":30,"y":5e-7},{"t":10700,"x":40,"y":4e-6},{"t":10700,"x":50,"y":2e-6},{"t":10700,"x":70,"y":6e-6},{"t":10700,"x":85,"y":3e-8},{"t":10700,"x":100,"y":3e-6},
{"t":17916,"x":1,"y":1.2e-4},{"t":17916,"x":1.5,"y":1.1e-4},{"t":17916,"x":2,"y":1.2e-4},{"t":17916,"x":3,"y":1.1e-4},{"t":17916,"x":4,"y":1e-4},{"t":17916,"x":5,"y":9e-5},{"t":17916,"x":6,"y":6e-5},{"t":17916,"x":7,"y":3e-5},{"t":17916,"x":8,"y":1.5e-5},{"t":17916,"x":9,"y":1e-5},{"t":17916,"x":10,"y":1.2e-5},{"t":17916,"x":11,"y":2e-5},{"t":17916,"x":12,"y":3e-5},{"t":17916,"x":14,"y":5e-5},{"t":17916,"x":17,"y":7e-5},{"t":17916,"x":20,"y":9e-5},{"t":17916,"x":25,"y":1.1e-4},{"t":17916,"x":30,"y":1.3e-4},{"t":17916,"x":40,"y":1.6e-4},{"t":17916,"x":50,"y":1.8e-4},{"t":17916,"x":70,"y":2.1e-4},{"t":17916,"x":85,"y":2.2e-4},{"t":17916,"x":100,"y":2.3e-4},
{"t":30000,"x":1,"y":1.7e-4},{"t":30000,"x":1.5,"y":1.6e-4},{"t":30000,"x":2,"y":1.7e-4},{"t":30000,"x":3,"y":1.6e-4},{"t":30000,"x":4,"y":1.5e-4},{"t":30000,"x":5,"y":1.3e-4},{"t":30000,"x":6,"y":6e-5},{"t":30000,"x":7,"y":1.5e-5},{"t":30000,"x":8,"y":2e-6},{"t":30000,"x":9,"y":5e-7},{"t":30000,"x":10,"y":1e-6},{"t":30000,"x":11,"y":4e-6},{"t":30000,"x":12,"y":1e-5},{"t":30000,"x":14,"y":2.5e-5},{"t":30000,"x":17,"y":6e-5},{"t":30000,"x":20,"y":1e-4},{"t":30000,"x":25,"y":2e-4},{"t":30000,"x":30,"y":3e-4},{"t":30000,"x":40,"y":5e-4},{"t":30000,"x":50,"y":7e-4},{"t":30000,"x":70,"y":1.1e-3},{"t":30000,"x":85,"y":1.5e-3},{"t":30000,"x":100,"y":1.8e-3}
],
"B31":[
{"t":2279,"x":1,"y":0.24},{"t":2279,"x":3,"y":0.235},{"t":2279,"x":10,"y":0.22},{"t":2279,"x":20,"y":0.18},{"t":2279,"x":30,"y":0.16},{"t":2279,"x":50,"y":0.15},{"t":2279,"x":70,"y":0.14},{"t":2279,"x":100,"y":0.13},{"t":2279,"x":150,"y":0.14},{"t":2279,"x":200,"y":0.135},{"t":2279,"x":300,"y":0.145},{"t":2279,"x":400,"y":0.13},{"t":2279,"x":500,"y":0.14},{"t":2279,"x":700,"y":0.135},{"t":2279,"x":1000,"y":0.15},{"t":2279,"x":1500,"y":0.14},{"t":2279,"x":2000,"y":0.13},{"t":2279,"x":3000,"y":0.145},{"t":2279,"x":5000,"y":0.14},{"t":2279,"x":7000,"y":0.15},{"t":2279,"x":10000,"y":0.135},{"t":2279,"x":15000,"y":0.15},{"t":2279,"x":20000,"y":0.14},{"t":2279,"x":30000,"y":0.13},{"t":2279,"x":50000,"y":0.145},{"t":2279,"x":70000,"y":0.14},{"t":2279,"x":100000,"y":0.135},
{"t":3816,"x":1,"y":0.26},{"t":3816,"x":3,"y":0.25},{"t":3816,"x":10,"y":0.21},{"t":3816,"x":20,"y":0.17},{"t":3816,"x":30,"y":0.15},{"t":3816,"x":50,"y":0.13},{"t":3816,"x":70,"y":0.12},{"t":3816,"x":100,"y":0.11},{"t":3816,"x":150,"y":0.12},{"t":3816,"x":200,"y":0.105},{"t":3816,"x":300,"y":0.115},{"t":3816,"x":400,"y":0.11},{"t":3816,"x":500,"y":0.12},{"t":3816,"x":700,"y":0.105},{"t":3816,"x":1000,"y":0.115},{"t":3816,"x":1500,"y":0.12},{"t":3816,"x":2000,"y":0.11},{"t":3816,"x":3000,"y":0.12},{"t":3816,"x":5000,"y":0.11},{"t":3816,"x":7000,"y":0.12},{"t":3816,"x":10000,"y":0.115},{"t":3816,"x":15000,"y":0.125},{"t":3816,"x":20000,"y":0.11},{"t":3816,"x":30000,"y":0.12},{"t":3816,"x":50000,"y":0.115},{"t":3816,"x":70000,"y":0.11},{"t":3816,"x":100000,"y":0.12},
{"t":6390,"x":1,"y":0.27},{"t":6390,"x":3,"y":0.26},{"t":6390,"x":10,"y":0.22},{"t":6390,"x":20,"y":0.17},{"t":6390,"x":30,"y":0.14},{"t":6390,"x":50,"y":0.12},{"t":6390,"x":70,"y":0.1},{"t":6390,"x":100,"y":0.095},{"t":6390,"x":150,"y":0.09},{"t":6390,"x":200,"y":0.085},{"t":6390,"x":300,"y":0.095},{"t":6390,"x":400,"y":0.085},{"t":6390,"x":500,"y":0.09},{"t":6390,"x":700,"y":0.08},{"t":6390,"x":1000,"y":0.095},{"t":6390,"x":1500,"y":0.085},{"t":6390,"x":2000,"y":0.09},{"t":6390,"x":3000,"y":0.095},{"t":6390,"x":5000,"y":0.085},{"t":6390,"x":7000,"y":0.09},{"t":6390,"x":10000,"y":0.08},{"t":6390,"x":15000,"y":0.09},{"t":6390,"x":20000,"y":0.085},{"t":6390,"x":30000,"y":0.09},{"t":6390,"x":50000,"y":0.08},{"t":6390,"x":70000,"y":0.085},{"t":6390,"x":100000,"y":0.08},
{"t":10700,"x":1,"y":0.21},{"t":10700,"x":3,"y":0.2},{"t":10700,"x":10,"y":0.19},{"t":10700,"x":20,"y":0.17},{"t":10700,"x":30,"y":0.15},{"t":10700,"x":50,"y":0.11},{"t":10700,"x":70,"y":0.08},{"t":10700,"x":100,"y":0.06},{"t":10700,"x":150,"y":0.045},{"t":10700,"x":200,"y":0.038},{"t":10700,"x":300,"y":0.034},{"t":10700,"x":400,"y":0.04},{"t":10700,"x":500,"y":0.03},{"t":10700,"x":700,"y":0.036},{"t":10700,"x":1000,"y":0.032},{"t":10700,"x":1500,"y":0.028},{"t":10700,"x":2000,"y":0.035},{"t":10700,"x":3000,"y":0.03},{"t":10700,"x":5000,"y":0.04},{"t":10700,"x":7000,"y":0.035},{"t":10700,"x":10000,"y":0.045},{"t":10700,"x":15000,"y":0.038},{"t":10700,"x":20000,"y":0.042},{"t":10700,"x":30000,"y":0.035},{"t":10700,"x":50000,"y":0.04},{"t":10700,"x":70000,"y":0.033},{"t":10700,"x":100000,"y":0.03},
{"t":17916,"x":1,"y":0.22},{"t":17916,"x":3,"y":0.215},{"t":17916,"x":10,"y":0.2},{"t":17916,"x":20,"y":0.17},{"t":17916,"x":30,"y":0.15},{"t":17916,"x":50,"y":0.12},{"t":17916,"x":70,"y":0.09},{"t":17916,"x":100,"y":0.065},{"t":17916,"x":150,"y":0.05},{"t":17916,"x":200,"y":0.04},{"t":17916,"x":300,"y":0.032},{"t":17916,"x":400,"y":0.03},{"t":17916,"x":500,"y":0.035},{"t":17916,"x":700,"y":0.04},{"t":17916,"x":1000,"y":0.035},{"t":17916,"x":1500,"y":0.04},{"t":17916,"x":2000,"y":0.045},{"t":17916,"x":3000,"y":0.038},{"t":17916,"x":5000,"y":0.05},{"t":17916,"x":7000,"y":0.045},{"t":17916,"x":10000,"y":0.055},{"t":17916,"x":15000,"y":0.05},{"t":17916,"x":20000,"y":0.06},{"t":17916,"x":30000,"y":0.052},{"t":17916,"x":50000,"y":0.045},{"t":17916,"x":70000,"y":0.05},{"t":17916,"x":100000,"y":0.042},
{"t":30000,"x":1,"y":0.23},{"t":30000,"x":3,"y":0.23},{"t":30000,"x":10,"y":0.235},{"t":30000,"x":20,"y":0.23},{"t":30000,"x":30,"y":0.23},{"t":30000,"x":50,"y":0.22},{"t":30000,"x":70,"y":0.2},{"t":30000,"x":100,"y":0.15},{"t":30000,"x":150,"y":0.11},{"t":30000,"x":200,"y":0.08},{"t":30000,"x":300,"y":0.05},{"t":30000,"x":400,"y":0.033},{"t":30000,"x":500,"y":0.028},{"t":30000,"x":700,"y":0.045},{"t":30000,"x":1000,"y":0.062},{"t":30000,"x":1500,"y":0.065},{"t":30000,"x":2000,"y":0.058},{"t":30000,"x":3000,"y":0.068},{"t":30000,"x":5000,"y":0.062},{"t":30000,"x":7000,"y":0.07},{"t":30000,"x":10000,"y":0.06},{"t":30000,"x":15000,"y":0.075},{"t":30000,"x":20000,"y":0.068},{"t":30000,"x":30000,"y":0.058},{"t":30000,"x":50000,"y":0.065},{"t":30000,"x":70000,"y":0.055},{"t":30000,"x":100000,"y":0.046}
],
"B32":[
{"t":2279,"x":1,"y":0.21},{"t":2279,"x":1.5,"y":0.21},{"t":2279,"x":2,"y":0.205},{"t":2279,"x":3,"y":0.2},{"t":2279,"x":4,"y":0.19},{"t":2279,"x":5,"y":0.18},{"t":2279,"x":6,"y":0.165},{"t":2279,"x":7,"y":0.13},{"t":2279,"x":8,"y":0.1},{"t":2279,"x":9,"y":0.095},{"t":2279,"x":10,"y":0.115},{"t":2279,"x":11,"y":0.13},{"t":2279,"x":12,"y":0.12},{"t":2279,"x":14,"y":0.135},{"t":2279,"x":17,"y":0.125},{"t":2279,"x":20,"y":0.13},{"t":2279,"x":25,"y":0.14},{"t":2279,"x":30,"y":0.125},{"t":2279,"x":40,"y":0.135},{"t":2279,"x":50,"y":0.13},{"t":2279,"x":70,"y":0.14},{"t":2279,"x":85,"y":0.125},{"t":2279,"x":100,"y":0.13},
{"t":3816,"x":1,"y":0.22},{"t":3816,"x":1.5,"y":0.215},{"t":3816,"x":2,"y":0.21},{"t":3816,"x":3,"y":0.2},{"t":3816,"x":4,"y":0.19},{"t":3816,"x":5,"y":0.18},{"t":3816,"x":6,"y":0.16},{"t":3816,"x":7,"y":0.12},{"t":3816,"x":8,"y":0.085},{"t":3816,"x":9,"y":0.08},{"t":3816,"x":10,"y":0.1},{"t":3816,"x":11,"y":0.11},{"t":3816,"x":12,"y":0.105},{"t":3816,"x":14,"y":0.115},{"t":3816,"x":17,"y":0.11},{"t":3816,"x":20,"y":0.12},{"t":3816,"x":25,"y":0.11},{"t":3816,"x":30,"y":0.115},{"t":3816,"x":40,"y":0.12},{"t":3816,"x":50,"y":0.11},{"t":3816,"x":70,"y":0.12},{"t":3816,"x":85,"y":0.115},{"t":3816,"x":100,"y":0.11},
{"t":6390,"x":1,"y":0.23},{"t":6390,"x":1.5,"y":0.22},{"t":6390,"x":2,"y":0.21},{"t":6390,"x":3,"y":0.2},{"t":6390,"x":4,"y":0.19},{"t":6390,"x":5,"y":0.18},{"t":6390,"x":6,"y":0.15},{"t":6390,"x":7,"y":0.1},{"t":6390,"x":8,"y":0.065},{"t":6390,"x":9,"y":0.057},{"t":6390,"x":10,"y":0.07},{"t":6390,"x":11,"y":0.08},{"t":6390,"x":12,"y":0.085},{"t":6390,"x":14,"y":0.09},{"t":6390,"x":17,"y":0.08},{"t":6390,"x":20,"y":0.09},{"t":6390,"x":25,"y":0.085},{"t":6390,"x":30,"y":0.09},{"t":6390,"x":40,"y":0.085},{"t":6390,"x":50,"y":0.09},{"t":6390,"x":70,"y":0.095},{"t":6390,"x":85,"y":0.085},{"t":6390,"x":100,"y":0.09},
{"t":10700,"x":1,"y":0.25},{"t":10700,"x":1.5,"y":0.25},{"t":10700,"x":2,"y":0.255},{"t":10700,"x":3,"y":0.26},{"t":10700,"x":4,"y":0.26},{"t":10700,"x":5,"y":0.24},{"t":10700,"x":6,"y":0.19},{"t":10700,"x":7,"y":0.12},{"t":10700,"x":8,"y":0.065},{"t":10700,"x":9,"y":0.048},{"t":10700,"x":10,"y":0.06},{"t":10700,"x":11,"y":0.09},{"t":10700,"x":12,"y":0.13},{"t":10700,"x":14,"y":0.17},{"t":10700,"x":17,"y":0.2},{"t":10700,"x":20,"y":0.215},{"t":10700,"x":25,"y":0.22},{"t":10700,"x":30,"y":0.23},{"t":10700,"x":40,"y":0.235},{"t":10700,"x":50,"y":0.24},{"t":10700,"x":70,"y":0.245},{"t":10700,"x":85,"y":0.25},{"t":10700,"x":100,"y":0.25},
{"t":17916,"x":1,"y":0.28},{"t":17916,"x":1.5,"y":0.28},{"t":17916,"x":2,"y":0.285},{"t":17916,"x":3,"y":0.29},{"t":17916,"x":4,"y":0.29},{"t":17916,"x":5,"y":0.27},{"t":17916,"x":6,"y":0.21},{"t":17916,"x":7,"y":0.12},{"t":17916,"x":8,"y":0.06},{"t":17916,"x":9,"y":0.04},{"t":17916,"x":10,"y":0.055},{"t":17916,"x":11,"y":0.1},{"t":17916,"x":12,"y":0.15},{"t":17916,"x":14,"y":0.2},{"t":17916,"x":17,"y":0.23},{"t":17916,"x":20,"y":0.25},{"t":17916,"x":25,"y":0.26},{"t":17916,"x":30,"y":0.27},{"t":17916,"x":40,"y":0.27},{"t":17916,"x":50,"y":0.28},{"t":17916,"x":70,"y":0.28},{"t":17916,"x":85,"y":0.28},{"t":17916,"x":100,"y":0.285},
{"t":30000,"x":1,"y":0.31},{"t":30000,"x":1.5,"y":0.31},{"t":30000,"x":2,"y":0.315},{"t":30000,"x":3,"y":0.32},{"t":30000,"x":4,"y":0.32},{"t":30000,"x":5,"y":0.3},{"t":30000,"x":6,"y":0.22},{"t":30000,"x":7,"y":0.12},{"t":30000,"x":8,"y":0.05},{"t":30000,"x":9,"y":0.033},{"t":30000,"x":10,"y":0.05},{"t":30000,"x":11,"y":0.1},{"t":30000,"x":12,"y":0.16},{"t":30000,"x":14,"y":0.22},{"t":30000,"x":17,"y":0.26},{"t":30000,"x":20,"y":0.28},{"t":30000,"x":25,"y":0.29},{"t":30000,"x":30,"y":0.3},{"t":30000,"x":40,"y":0.3},{"t":30000,"x":50,"y":0.3},{"t":30000,"x":70,"y":0.31},{"t":30000,"x":85,"y":0.31},{"t":30000,"x":100,"y":0.31}
]
},
"hconcat":[
{
 "title":{"text":"MNIST - Handwritten digits","color":"#2424c8","fontSize":16,"anchor":"middle","frame":"bounds","dx":21,"offset":4},
 "resolve":{"scale":{"color":"independent"},"legend":{"color":"independent"}},
 "vconcat":[{
  "title":{"text":"A)","anchor":"start","frame":"group","fontSize":15,"dx":-25,"dy":19,"offset":0},
  "columns":2,"spacing":0,"bounds":"flush",
  "concat":[
     {"width":135,"height":47,"data":{"name":"A11"},"title":"PCD-100 (k = 100)","mark":{"type":"line","strokeWidth":1.4,"clip":true},
      "encoding":{
       "x":{"field":"x","type":"quantitative","scale":{"type":"log","domain":[0.56,178000],"nice":false},"axis":null},
       "y":{"field":"y","type":"quantitative","scale":{"type":"log","domain":[0.00078,0.15],"nice":false},"axis":{"values":[0.001,0.01,0.1],"title":"εˢ","labelExpr":"'10' + replace(replace(replace(replace(replace(replace(replace(replace(replace(replace(toString(round(log(datum.value)/LN10)),'-','⁻'),'0','⁰'),'1','¹'),'2','²'),'3','³'),'4','⁴'),'5','⁵'),'6','⁶'),'7','⁷'),'8','⁸')"}},
       "color":{"field":"t","type":"nominal","scale":{"domain":[16260,27220,45580,76320,127800,214000,358320,600000],"range":["#a50026","#e34a33","#fca55d","#fee99d","#e9f6e8","#a3d3e6","#598dc0","#313695"]},
        "legend":{"title":null,"orient":"none","legendX":0,"legendY":-66,"columns":3,"labelExpr":"'t_age =' + datum.label","labelFont":"Liberation Serif","labelFontSize":9.5,"rowPadding":0,"columnPadding":3,"padding":2}}}},
     {"width":135,"height":47,"data":{"name":"A12"},"title":"F&F-10 (k = 10)","mark":{"type":"line","strokeWidth":1.4,"clip":true},
      "encoding":{
       "x":{"field":"x","type":"quantitative","scale":{"type":"log","domain":[0.75,135],"nice":false},"axis":null},
       "y":{"field":"y","type":"quantitative","scale":{"type":"log","domain":[0.00078,0.15],"nice":false},"axis":{"values":[0.001,0.01,0.1],"labels":false,"title":null}},
       "color":{"field":"t","type":"nominal","scale":{"domain":[16260,27220,45580,76320,127800,214000,358320,600000],"range":["#a50026","#e34a33","#fca55d","#fee99d","#e9f6e8","#a3d3e6","#598dc0","#313695"]}}}},
     {"width":135,"height":49,"data":{"name":"A21"},"mark":{"type":"line","strokeWidth":1.4,"clip":true},
      "encoding":{
       "x":{"field":"x","type":"quantitative","scale":{"type":"log","domain":[0.56,178000],"nice":false},"axis":null},
       "y":{"field":"y","type":"quantitative","scale":{"type":"log","domain":[4.5e-8,11],"nice":false},"axis":{"values":[1e-7,1e-5,0.001,0.1],"title":"ΔS","labelExpr":"'10' + replace(replace(replace(replace(replace(replace(replace(replace(replace(replace(toString(round(log(datum.value)/LN10)),'-','⁻'),'0','⁰'),'1','¹'),'2','²'),'3','³'),'4','⁴'),'5','⁵'),'6','⁶'),'7','⁷'),'8','⁸')"}},
       "color":{"field":"t","type":"nominal","scale":{"domain":[16260,27220,45580,76320,127800,214000,358320,600000],"range":["#a50026","#e34a33","#fca55d","#fee99d","#e9f6e8","#a3d3e6","#598dc0","#313695"]}}}},
     {"width":135,"height":49,"data":{"name":"A22"},"mark":{"type":"line","strokeWidth":1.4,"clip":true},
      "encoding":{
       "x":{"field":"x","type":"quantitative","scale":{"type":"log","domain":[0.75,135],"nice":false},"axis":null},
       "y":{"field":"y","type":"quantitative","scale":{"type":"log","domain":[4.5e-8,11],"nice":false},"axis":{"values":[1e-7,1e-5,0.001,0.1],"labels":false,"title":null}},
       "color":{"field":"t","type":"nominal","scale":{"domain":[16260,27220,45580,76320,127800,214000,358320,600000],"range":["#a50026","#e34a33","#fca55d","#fee99d","#e9f6e8","#a3d3e6","#598dc0","#313695"]}}}},
     {"width":135,"height":49,"data":{"name":"A31"},"mark":{"type":"line","strokeWidth":1.4,"clip":true},
      "encoding":{
       "x":{"field":"x","type":"quantitative","scale":{"type":"log","domain":[0.56,178000],"nice":false},"axis":{"values":[1,10,100,1000,10000,100000],"title":"t_G [MCMC steps]","titleX":135,"titleY":33,"titleAlign":"center","titleBaseline":"alphabetic","labelExpr":"'10' + replace(replace(replace(replace(replace(replace(replace(replace(replace(replace(toString(round(log(datum.value)/LN10)),'-','⁻'),'0','⁰'),'1','¹'),'2','²'),'3','³'),'4','⁴'),'5','⁵'),'6','⁶'),'7','⁷'),'8','⁸')"}},
       "y":{"field":"y","type":"quantitative","scale":{"type":"log","domain":[0.036,0.57],"nice":false},"axis":{"values":[0.1],"title":"εᴬᴬᴵ","labelExpr":"'10' + replace(replace(replace(replace(replace(replace(replace(replace(replace(replace(toString(round(log(datum.value)/LN10)),'-','⁻'),'0','⁰'),'1','¹'),'2','²'),'3','³'),'4','⁴'),'5','⁵'),'6','⁶'),'7','⁷'),'8','⁸')"}},
       "color":{"field":"t","type":"nominal","scale":{"domain":[16260,27220,45580,76320,127800,214000,358320,600000],"range":["#a50026","#e34a33","#fca55d","#fee99d","#e9f6e8","#a3d3e6","#598dc0","#313695"]}}}},
     {"width":135,"height":49,"data":{"name":"A32"},"mark":{"type":"line","strokeWidth":1.4,"clip":true},
      "encoding":{
       "x":{"field":"x","type":"quantitative","scale":{"type":"log","domain":[0.75,135],"nice":false},"axis":{"values":[1,10,100],"title":null,"labelExpr":"'10' + replace(replace(replace(replace(replace(replace(replace(replace(replace(replace(toString(round(log(datum.value)/LN10)),'-','⁻'),'0','⁰'),'1','¹'),'2','²'),'3','³'),'4','⁴'),'5','⁵'),'6','⁶'),'7','⁷'),'8','⁸')"}},
       "y":{"field":"y","type":"quantitative","scale":{"type":"log","domain":[0.036,0.57],"nice":false},"axis":{"values":[0.1],"labels":false,"title":null}},
       "color":{"field":"t","type":"nominal","scale":{"domain":[16260,27220,45580,76320,127800,214000,358320,600000],"range":["#a50026","#e34a33","#fca55d","#fee99d","#e9f6e8","#a3d3e6","#598dc0","#313695"]}}}}
  ]
 }]
},
{
 "title":{"text":"HGD - Human genome","color":"#2424c8","fontSize":16,"anchor":"middle","frame":"bounds","dx":16,"offset":7},
 "resolve":{"scale":{"color":"independent"},"legend":{"color":"independent"}},
 "vconcat":[{
  "title":{"text":"B)","anchor":"start","frame":"group","fontSize":15,"dx":-24,"dy":10,"offset":0},
  "columns":2,"spacing":0,"bounds":"flush",
  "concat":[
     {"width":133,"height":47,"data":{"name":"B11"},"title":"PCD-100 (k = 100)","mark":{"type":"line","strokeWidth":1.4,"clip":true},
      "encoding":{
       "x":{"field":"x","type":"quantitative","scale":{"type":"log","domain":[0.6,200000],"nice":false},"axis":null},
       "y":{"field":"y","type":"quantitative","scale":{"type":"log","domain":[0.0009,0.105],"nice":false},"axis":{"values":[0.001,0.01,0.1],"title":"εˢ","labelExpr":"'10' + replace(replace(replace(replace(replace(replace(replace(replace(replace(replace(toString(round(log(datum.value)/LN10)),'-','⁻'),'0','⁰'),'1','¹'),'2','²'),'3','³'),'4','⁴'),'5','⁵'),'6','⁶'),'7','⁷'),'8','⁸')"}},
       "color":{"field":"t","type":"nominal","scale":{"domain":[2279,3816,6390,10700,17916,30000],"range":["#a50026","#f46d43","#fee090","#e0f3f8","#74add1","#313695"]},
        "legend":{"title":null,"orient":"none","legendX":1,"legendY":-61,"columns":3,"labelExpr":"'t_age =' + datum.label","labelFont":"Liberation Serif","labelFontSize":10,"rowPadding":2,"columnPadding":6,"padding":8}}}},
     {"width":134,"height":47,"data":{"name":"B12"},"title":"F&F-10 (k = 10)","mark":{"type":"line","strokeWidth":1.4,"clip":true},
      "encoding":{
       "x":{"field":"x","type":"quantitative","scale":{"type":"log","domain":[0.65,138],"nice":false},"axis":null},
       "y":{"field":"y","type":"quantitative","scale":{"type":"log","domain":[0.0009,0.105],"nice":false},"axis":{"values":[0.001,0.01,0.1],"labels":false,"title":null}},
       "color":{"field":"t","type":"nominal","scale":{"domain":[2279,3816,6390,10700,17916,30000],"range":["#a50026","#f46d43","#fee090","#e0f3f8","#74add1","#313695"]}}}},
     {"width":133,"height":49,"data":{"name":"B21"},"mark":{"type":"line","strokeWidth":1.4,"clip":true},
      "encoding":{
       "x":{"field":"x","type":"quantitative","scale":{"type":"log","domain":[0.6,200000],"nice":false},"axis":null},
       "y":{"field":"y","type":"quantitative","scale":{"type":"log","domain":[1.9e-11,0.006],"nice":false},"axis":{"values":[1e-10,1e-8,1e-6,1e-4],"title":"ΔS","labelExpr":"'10' + replace(replace(replace(replace(replace(replace(replace(replace(replace(replace(toString(round(log(datum.value)/LN10)),'-','⁻'),'0','⁰'),'1','¹'),'2','²'),'3','³'),'4','⁴'),'5','⁵'),'6','⁶'),'7','⁷'),'8','⁸')"}},
       "color":{"field":"t","type":"nominal","scale":{"domain":[2279,3816,6390,10700,17916,30000],"range":["#a50026","#f46d43","#fee090","#e0f3f8","#74add1","#313695"]}}}},
     {"width":134,"height":49,"data":{"name":"B22"},"mark":{"type":"line","strokeWidth":1.4,"clip":true},
      "encoding":{
       "x":{"field":"x","type":"quantitative","scale":{"type":"log","domain":[0.65,138],"nice":false},"axis":null},
       "y":{"field":"y","type":"quantitative","scale":{"type":"log","domain":[1.9e-11,0.006],"nice":false},"axis":{"values":[1e-10,1e-8,1e-6,1e-4],"labels":false,"title":null}},
       "color":{"field":"t","type":"nominal","scale":{"domain":[2279,3816,6390,10700,17916,30000],"range":["#a50026","#f46d43","#fee090","#e0f3f8","#74add1","#313695"]}}}},
     {"width":133,"height":49,"data":{"name":"B31"},"mark":{"type":"line","strokeWidth":1.4,"clip":true},
      "encoding":{
       "x":{"field":"x","type":"quantitative","scale":{"type":"log","domain":[0.6,200000],"nice":false},"axis":{"values":[1,10,100,1000,10000,100000],"title":"t_G [MCMC steps]","titleX":133,"titleY":33,"titleAlign":"center","titleBaseline":"alphabetic","labelExpr":"'10' + replace(replace(replace(replace(replace(replace(replace(replace(replace(replace(toString(round(log(datum.value)/LN10)),'-','⁻'),'0','⁰'),'1','¹'),'2','²'),'3','³'),'4','⁴'),'5','⁵'),'6','⁶'),'7','⁷'),'8','⁸')"}},
       "y":{"field":"y","type":"quantitative","scale":{"type":"log","domain":[0.0255,0.4],"nice":false},"axis":{"values":[0.1],"title":"εᴬᴬᴵ","labelExpr":"'10' + replace(replace(replace(replace(replace(replace(replace(replace(replace(replace(toString(round(log(datum.value)/LN10)),'-','⁻'),'0','⁰'),'1','¹'),'2','²'),'3','³'),'4','⁴'),'5','⁵'),'6','⁶'),'7','⁷'),'8','⁸')"}},
       "color":{"field":"t","type":"nominal","scale":{"domain":[2279,3816,6390,10700,17916,30000],"range":["#a50026","#f46d43","#fee090","#e0f3f8","#74add1","#313695"]}}}},
     {"width":134,"height":49,"data":{"name":"B32"},"mark":{"type":"line","strokeWidth":1.4,"clip":true},
      "encoding":{
       "x":{"field":"x","type":"quantitative","scale":{"type":"log","domain":[0.65,138],"nice":false},"axis":{"values":[1,10,100],"title":null,"labelExpr":"'10' + replace(replace(replace(replace(replace(replace(replace(replace(replace(replace(toString(round(log(datum.value)/LN10)),'-','⁻'),'0','⁰'),'1','¹'),'2','²'),'3','³'),'4','⁴'),'5','⁵'),'6','⁶'),'7','⁷'),'8','⁸')"}},
       "y":{"field":"y","type":"quantitative","scale":{"type":"log","domain":[0.0255,0.4],"nice":false},"axis":{"values":[0.1],"labels":false,"title":null}},
       "color":{"field":"t","type":"nominal","scale":{"domain":[2279,3816,6390,10700,17916,30000],"range":["#a50026","#f46d43","#fee090","#e0f3f8","#74add1","#313695"]}}}}
  ]
 }]
}
],
"spacing":11,
"resolve":{"scale":{"color":"independent"},"legend":{"color":"independent"}}
}
